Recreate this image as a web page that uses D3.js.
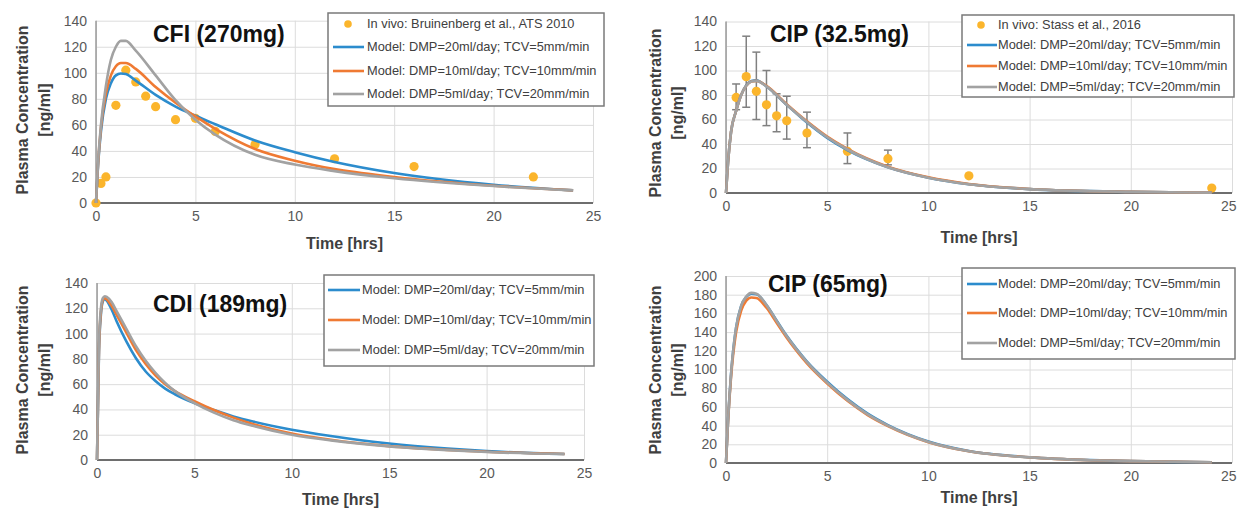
<!DOCTYPE html>
<html>
<head>
<meta charset="utf-8">
<script src="https://cdn.jsdelivr.net/npm/d3@7"></script>
<style>
  body { margin: 0; background: #fff; }
  svg { display: block; font-family: "Liberation Sans", Arial, sans-serif; }
</style>
</head>
<body>
<svg id="chart" width="1237" height="519"></svg>
<script>
// ---- data ----
const modelLabels = [
  "Model: DMP=20ml/day; TCV=5mm/min",
  "Model: DMP=10ml/day; TCV=10mm/min",
  "Model: DMP=5ml/day; TCV=20mm/min"
];
const xTicks = [0, 5, 10, 15, 20, 25];

// CFI (270mg)
const cfiTime = [0, 0.1, 0.25, 0.5, 0.75, 1, 1.25, 1.5, 2, 3, 4, 5, 6, 8, 10, 12, 15, 20, 24];
const cfiBlue = [0, 28, 55, 80, 92, 98, 99.5, 99, 94, 83, 74, 67, 60.5, 48, 39, 31.5, 23, 14, 9.7];
const cfiOrange = [0, 29, 58, 84, 98, 105, 107.5, 107.5, 103, 89, 77, 66.5, 57, 41.5, 32.5, 26, 20, 13.2, 9.7];
const cfiGray = [0, 30, 60, 90, 110, 120, 124.5, 124.5, 117, 98, 79, 64, 52.5, 37, 29.5, 24.5, 19, 13, 9.7];
const cfiObsTime = [0, 0.25, 0.5, 1, 1.5, 2, 2.5, 3, 4, 5, 6, 8, 12, 16, 22];
const cfiObs = [0, 15, 20, 75, 102, 93, 82, 74, 64, 65, 55, 45, 34, 28, 20];

// CIP (32.5mg)
const cip32Time = [0, 0.1, 0.25, 0.5, 0.75, 1, 1.25, 1.5, 2, 3, 4, 5, 6, 8, 10, 12, 15, 20, 24];
const cip32Blue = [0, 25, 50, 67, 80, 88, 91.5, 92, 87, 72, 57.5, 45, 35, 21, 12.5, 7.2, 3.2, 0.9, 0.3];
const cip32Orange = [0, 25, 50, 67, 80, 87.5, 91, 91.5, 87.5, 72.5, 58.5, 46, 36, 21.5, 12.8, 7.4, 3.3, 0.9, 0.3];
const cip32Gray = [0, 25, 50, 67, 80, 87.5, 91, 91.5, 87, 72, 58, 45.5, 35.5, 21, 12.5, 7.2, 3.2, 0.9, 0.3];
const cip32ObsTime = [0.5, 1, 1.5, 2, 2.5, 3, 4, 6, 8, 12, 24];
const cip32Obs = [78, 95, 83, 72, 63, 59, 49, 34, 28, 14, 4];
const cip32ObsLow = [68, 70, 60, 55, 50, 44, 37, 24, 23, null, null];
const cip32ObsHigh = [89, 128, 115, 100, 81, 79, 66, 49, 35, null, null];

// CDI (189mg)
const cdiTime = [0, 0.1, 0.2, 0.3, 0.4, 0.5, 0.75, 1, 1.5, 2, 2.5, 3, 3.5, 4, 5, 6, 7, 8, 10, 12, 15, 18, 20, 24];
const cdiBlue = [0, 85, 115, 125.5, 127.5, 126, 119, 110, 94, 80.5, 70, 62.5, 56.5, 52, 45, 39.5, 34.5, 30.5, 24, 19, 13, 9, 7, 4.7];
const cdiOrange = [0, 87, 117, 126.5, 128, 127, 122, 115, 101, 87, 76, 67, 60, 54.5, 46.5, 39.5, 33.5, 28.5, 21, 16, 11, 8, 6.5, 4.7];
const cdiGray = [0, 90, 120, 128, 129.5, 129, 125, 118, 104, 90, 78.5, 69, 61, 54.5, 45, 37.5, 31.5, 27, 20, 15.5, 10.8, 7.8, 6.3, 4.7];

// CIP (65mg)
const cip65Time = [0, 0.1, 0.25, 0.5, 0.75, 1, 1.25, 1.5, 2, 2.5, 3, 3.5, 4, 5, 6, 7, 8, 10, 12, 15, 18, 20, 24];
const cip65Blue = [0, 45, 95, 145, 168, 177.5, 181, 180.5, 169, 152.5, 136, 121.5, 108.5, 87, 68.3, 52.8, 40.6, 23, 12.8, 6.2, 3.1, 2, 0.8];
const cip65Orange = [0, 44, 92, 140, 163, 173.5, 177, 176.5, 166, 150, 134, 119.5, 106.5, 85, 66.5, 51.3, 39.5, 22.3, 12.5, 6, 3, 2, 0.8];
const cip65Gray = [0, 45, 95, 145, 168, 178, 182, 181, 169, 152, 135.5, 121, 108, 86, 67.5, 52, 40, 22.5, 12.5, 6, 3, 2, 0.8];

const colors = ["#2c8ccd", "#ef7a33", "#a2a2a2"];
const dotColor = "#fbb52c";

const panels = [
  {
    title: "CFI (270mg)", titleX: 153, titleY: 42,
    x0: 96, x1: 593, yb: 203, yt: 20.7, yMax: 140,
    time: cfiTime, models: [cfiBlue, cfiOrange, cfiGray],
    obsTime: cfiObsTime, obs: cfiObs,
    obsLabel: "In vivo: Bruinenberg et al., ATS 2010",
    legend: { x: 328, y: 13, w: 276, h: 93, rows: [24, 47, 71, 94], s0: 333, s1: 364, tx: 367, dot: 348 },
    yTitleX: [28, 50], yTitleY: 110, xTitleY: 249
  },
  {
    title: "CIP (32.5mg)", titleX: 770, titleY: 42,
    x0: 726, x1: 1232, yb: 193, yt: 21.5, yMax: 140,
    time: cip32Time, models: [cip32Blue, cip32Orange, cip32Gray],
    obsTime: cip32ObsTime, obs: cip32Obs, obsLow: cip32ObsLow, obsHigh: cip32ObsHigh,
    obsLabel: "In vivo: Stass et al., 2016",
    legend: { x: 962, y: 15, w: 272, h: 82, rows: [25, 45, 66, 87], s0: 967, s1: 997, tx: 998, dot: 981 },
    yTitleX: [661, 683], yTitleY: 113, xTitleY: 243
  },
  {
    title: "CDI (189mg)", titleX: 153, titleY: 312,
    x0: 97, x1: 584, yb: 460, yt: 283, yMax: 140,
    time: cdiTime, models: [cdiBlue, cdiOrange, cdiGray],
    legend: { x: 324, y: 275, w: 270, h: 91, rows: [290, 320, 350], s0: 328, s1: 360, tx: 362 },
    yTitleX: [28, 50], yTitleY: 370, xTitleY: 505
  },
  {
    title: "CIP (65mg)", titleX: 768, titleY: 292,
    x0: 726, x1: 1232, yb: 463, yt: 276, yMax: 200,
    time: cip65Time, models: [cip65Blue, cip65Orange, cip65Gray],
    legend: { x: 962, y: 268, w: 273, h: 91, rows: [284, 313, 343], s0: 967, s1: 997, tx: 998 },
    yTitleX: [661, 683], yTitleY: 370, xTitleY: 503
  }
];

const svg = d3.select("#chart");
const W = +svg.attr("width");

panels.forEach(p => {
  const g = svg.append("g");
  const x = d3.scaleLinear().domain([0, 25]).range([p.x0, p.x1]);
  const y = d3.scaleLinear().domain([0, p.yMax]).range([p.yb, p.yt]);
  const yTicks = d3.range(0, p.yMax + 1, 20);

  // grid
  g.append("g")
    .attr("transform", `translate(${p.x0},0)`)
    .call(d3.axisLeft(y).tickValues(yTicks).tickSize(-(p.x1 - p.x0)).tickFormat(""))
    .call(a => a.select(".domain").remove())
    .call(a => a.selectAll("line").attr("stroke", "#dcdcdc").attr("stroke-width", 1));
  g.append("g")
    .attr("transform", `translate(0,${p.yb})`)
    .call(d3.axisBottom(x).tickValues(xTicks).tickSize(-(p.yb - p.yt)).tickFormat(""))
    .call(a => a.select(".domain").remove())
    .call(a => a.selectAll("line").attr("stroke", "#dcdcdc").attr("stroke-width", 1));

  // tick labels
  g.append("g")
    .attr("transform", `translate(${p.x0},0)`)
    .call(d3.axisLeft(y).tickValues(yTicks).tickSize(0).tickPadding(9))
    .call(a => a.select(".domain").remove())
    .call(a => a.selectAll("text").attr("font-size", 14).attr("fill", "#595959")
      .attr("font-family", "Liberation Sans, Arial, sans-serif"));
  g.append("g")
    .attr("transform", `translate(0,${p.yb})`)
    .call(d3.axisBottom(x).tickValues(xTicks).tickSize(0).tickPadding(8))
    .call(a => a.select(".domain").remove())
    .call(a => a.selectAll("text").attr("font-size", 14).attr("fill", "#595959")
      .attr("font-family", "Liberation Sans, Arial, sans-serif"))
    .call(a => a.selectAll("text").each(function (d) {
      // keep the last label inside the page edge
      const right = x(d) + this.getComputedTextLength() / 2;
      if (right > W - 1) d3.select(this).attr("dx", W - 1 - right);
    }));

  // axis lines
  g.append("line").attr("x1", p.x0).attr("x2", p.x0).attr("y1", p.yt).attr("y2", p.yb)
    .attr("stroke", "#9a9a9a").attr("stroke-width", 1.5);
  g.append("line").attr("x1", p.x0).attr("x2", p.x1).attr("y1", p.yb).attr("y2", p.yb)
    .attr("stroke", "#6e6e6e").attr("stroke-width", 2);

  // observed points (with error bars where given)
  if (p.obs) {
    const obsData = p.obs.map((v, i) => ({
      t: p.obsTime[i], v,
      lo: p.obsLow ? p.obsLow[i] : null,
      hi: p.obsHigh ? p.obsHigh[i] : null
    }));
    const bars = obsData.filter(d => d.lo != null);
    const eb = g.append("g").attr("stroke", "#808080").attr("stroke-width", 1.5);
    eb.selectAll("line.v").data(bars).join("line")
      .attr("x1", d => x(d.t)).attr("x2", d => x(d.t))
      .attr("y1", d => y(d.lo)).attr("y2", d => y(d.hi));
    eb.selectAll("line.top").data(bars).join("line")
      .attr("x1", d => x(d.t) - 4).attr("x2", d => x(d.t) + 4)
      .attr("y1", d => y(d.hi)).attr("y2", d => y(d.hi));
    eb.selectAll("line.bot").data(bars).join("line")
      .attr("x1", d => x(d.t) - 4).attr("x2", d => x(d.t) + 4)
      .attr("y1", d => y(d.lo)).attr("y2", d => y(d.lo));
    g.append("g").selectAll("circle").data(obsData).join("circle")
      .attr("cx", d => x(d.t)).attr("cy", d => y(d.v)).attr("r", 4.6)
      .attr("fill", dotColor);
  }

  // model curves
  const line = d3.line().x(d => x(d[0])).y(d => y(d[1])).curve(d3.curveMonotoneX);
  p.models.forEach((vals, i) => {
    g.append("path")
      .datum(d3.zip(p.time, vals))
      .attr("d", line)
      .attr("fill", "none")
      .attr("stroke", colors[i])
      .attr("stroke-width", 2.6)
      .attr("stroke-linejoin", "round");
  });

  // panel title
  g.append("text").attr("x", p.titleX).attr("y", p.titleY)
    .attr("font-size", 23).attr("font-weight", "bold").attr("fill", "#111")
    .text(p.title);

  // axis titles
  g.append("text").attr("x", (p.x0 + p.x1) / 2).attr("y", p.xTitleY)
    .attr("text-anchor", "middle").attr("font-size", 16).attr("font-weight", "bold")
    .attr("fill", "#3f3f3f").text("Time [hrs]");
  ["Plasma Concentration", "[ng/ml]"].forEach((t, i) => {
    g.append("text")
      .attr("transform", `translate(${p.yTitleX[i]},${p.yTitleY}) rotate(-90)`)
      .attr("text-anchor", "middle").attr("font-size", 16).attr("font-weight", "bold")
      .attr("fill", "#3f3f3f").text(t);
  });

  // legend
  const L = p.legend;
  const lg = g.append("g");
  lg.append("rect").attr("x", L.x).attr("y", L.y).attr("width", L.w).attr("height", L.h)
    .attr("fill", "#fff").attr("stroke", "#7a7a7a").attr("stroke-width", 1.5);
  let r = 0;
  if (p.obs) {
    lg.append("circle").attr("cx", L.dot).attr("cy", L.rows[0]).attr("r", 3.8).attr("fill", dotColor);
    lg.append("text").attr("x", L.tx).attr("y", L.rows[0]).attr("dy", "0.35em")
      .attr("font-size", 12.8).attr("fill", "#404040").text(p.obsLabel);
    r = 1;
  }
  modelLabels.forEach((lab, i) => {
    const ry = L.rows[r + i];
    lg.append("line").attr("x1", L.s0).attr("x2", L.s1).attr("y1", ry).attr("y2", ry)
      .attr("stroke", colors[i]).attr("stroke-width", 2.6);
    lg.append("text").attr("x", L.tx).attr("y", ry).attr("dy", "0.35em")
      .attr("font-size", 12.8).attr("fill", "#404040").text(lab);
  });
});
</script>
</body>
</html>
